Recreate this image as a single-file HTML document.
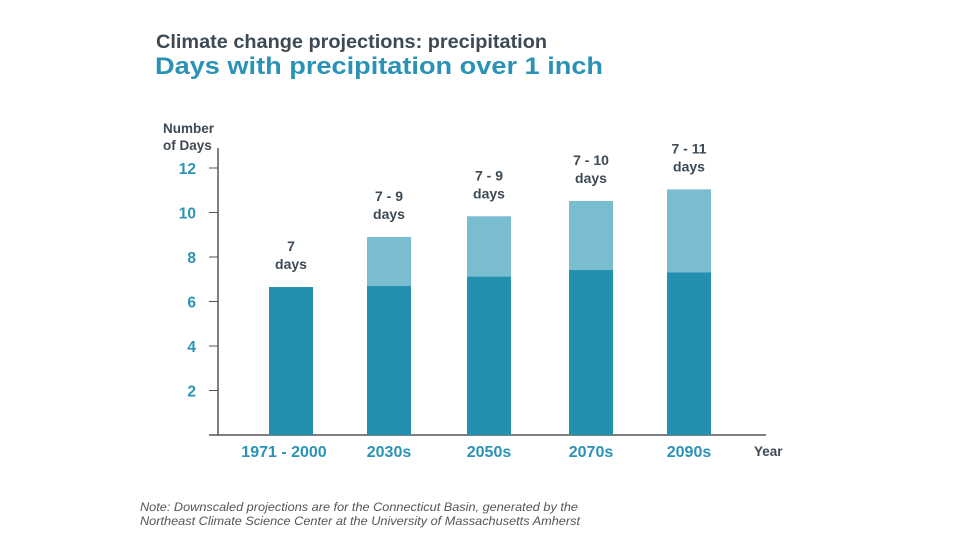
<!DOCTYPE html>
<html><head><meta charset="utf-8"><style>
body{margin:0;background:#fff;width:960px;height:540px;overflow:hidden;font-family:"Liberation Sans",Arial,sans-serif}
</style></head><body>
<svg width="960" height="540" xmlns="http://www.w3.org/2000/svg">
<text x="156" y="48" font-size="19" font-weight="bold" fill="#3d4a55" textLength="391" lengthAdjust="spacingAndGlyphs">Climate change projections: precipitation</text>
<text x="155" y="74" font-size="24" font-weight="bold" fill="#2a93b5" textLength="448" lengthAdjust="spacingAndGlyphs">Days with precipitation over 1 inch</text>
<text x="163" y="133" font-size="13.5" font-weight="bold" fill="#3d4a55"><tspan x="163">Number</tspan><tspan x="163" dy="17">of Days</tspan></text>
<text x="754" y="456" font-size="13.5" font-weight="bold" fill="#3d4a55">Year</text>
<g id="axes"></g>
<g id="bars"></g>
<text font-size="11.5" font-style="italic" fill="#555"><tspan x="140" y="511" textLength="438" lengthAdjust="spacingAndGlyphs">Note: Downscaled projections are for the Connecticut Basin, generated by the</tspan><tspan x="140" y="525" textLength="440" lengthAdjust="spacingAndGlyphs">Northeast Climate Science Center at the University of Massachusetts Amherst</tspan></text>
</svg>
<script>
const categories=["1971 - 2000","2030s","2050s","2070s","2090s"];
const lowValues=[6.65,6.7,7.12,7.42,7.31];
const highValues=[null,8.9,9.83,10.52,11.04];
const rangeLabels=["7","7 - 9","7 - 9","7 - 10","7 - 11"];
const yTicks=[2,4,6,8,10,12];
const NS="http://www.w3.org/2000/svg";
const y=v=>435-v*22.25;
const centers=[291,389,489,591,689];
const x=i=>centers[i];
function mk(t,a,p){const e=document.createElementNS(NS,t);for(const k in a)e.setAttribute(k,a[k]);p.appendChild(e);return e;}
const ax=document.getElementById('axes'),bg=document.getElementById('bars');
let l=mk('line',{x1:218,y1:y(12.9),x2:218,y2:435,stroke:'#555','stroke-width':1.5},ax);


l=mk('line',{x1:209,y1:435,x2:766,y2:435,stroke:'#555','stroke-width':1.5},ax);


yTicks.forEach(v=>{
 const t=mk('line',{x1:209,x2:218,y1:y(v),y2:y(v),stroke:'#555'},ax);
 
 
 const tx=mk('text',{x:196,y:y(v)+6,'text-anchor':'end','font-size':15.5,'font-weight':'bold',fill:'#2a93b5'},ax);
 tx.textContent=v;
 
 
});
categories.forEach((c,i)=>{
 const cx=x(i),w=44;
 const top=highValues[i]!=null?highValues[i]:lowValues[i];
 if(highValues[i]!=null){
  const r=mk('rect',{x:cx-w/2,y:y(highValues[i]),width:w,height:y(lowValues[i])-y(highValues[i]),fill:'#7bbdd0'},bg);
  
  
 }
 const r=mk('rect',{x:cx-w/2,y:y(lowValues[i]),width:w,height:435-y(lowValues[i]),fill:'#2490b0'},bg);
 
 
 const lb=mk('text',{x:cx,y:y(top)-36,'text-anchor':'middle','font-size':14,'font-weight':'bold',fill:'#3d4a55'},bg);
 lb.innerHTML='<tspan x="'+cx+'">'+rangeLabels[i]+'</tspan><tspan x="'+cx+'" dy="18">days</tspan>';
 
 
 const cl=mk('text',{x:cx-(i==0?7:0),y:457,'text-anchor':'middle','font-size':16,'font-weight':'bold',fill:'#2a93b5'},bg);
 cl.textContent=c;
 
 
});
</script>
</body></html>
